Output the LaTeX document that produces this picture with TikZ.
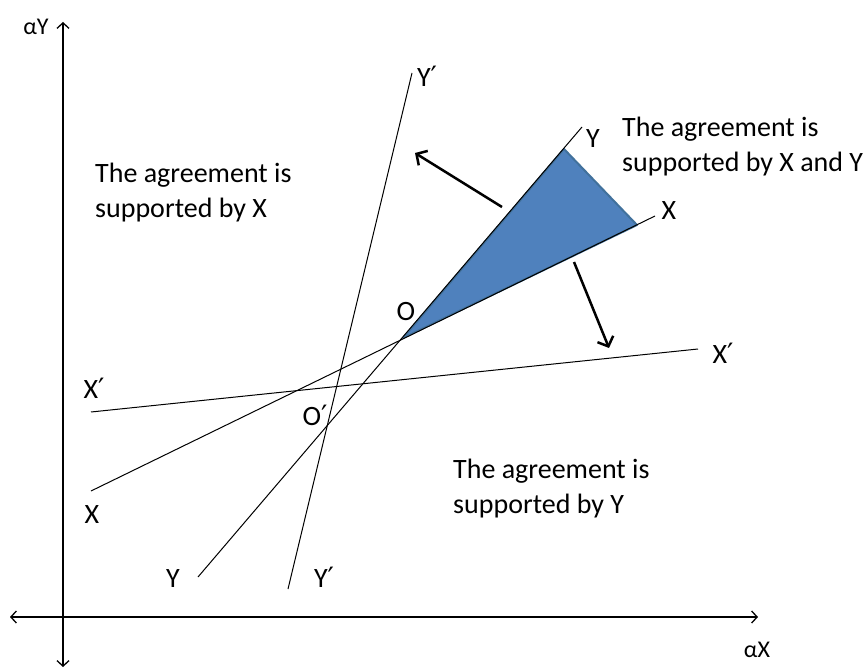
\documentclass[tikz,border=0pt]{standalone}
\usepackage{fontspec}
\setmainfont{Carlito}
\newfontfamily\primefont{DejaVu Sans}
\newcommand{\prm}{{\primefont\fontsize{28}{30}\selectfont ′}}
\usetikzlibrary{arrows.meta}
\definecolor{blueA}{HTML}{4F81BD}
\definecolor{blueB}{HTML}{41719C}
\begin{document}
\begin{tikzpicture}[x=1pt,y=-1pt,
  lbl/.style={font=\fontsize{28}{34}\selectfont, inner sep=0pt, anchor=base},
  txt/.style={font=\fontsize{28}{34}\selectfont, inner sep=0pt, anchor=base west},
  axislbl/.style={font=\fontsize{24}{28}\selectfont, inner sep=0pt, anchor=base},
  axis/.style={line width=1.3pt, {Straight Barb[length=5.5pt,width=12pt]}-{Straight Barb[length=5.5pt,width=12pt]}},
  ln/.style={line width=1pt},
  bigarrow/.style={line width=2.5pt, -{Straight Barb[length=8pt,width=17pt]}},
  region/.style={fill=blueA, draw=blueB, line width=2pt, line join=round}]
\useasboundingbox (0,0) rectangle (867,668);
% coordinates
\coordinate (vb) at (63,667);
\coordinate (vt) at (63,22);
\coordinate (hl) at (10,617);
\coordinate (hr) at (758,617);
\coordinate (X1) at (91,491);
\coordinate (X2) at (655,216);
\coordinate (Y1) at (198,577);
\coordinate (Y2) at (582,127);
\coordinate (Xp1) at (91,412);
\coordinate (Xp2) at (698,349);
\coordinate (Yp1) at (288,589);
\coordinate (Yp2) at (412,73);
\coordinate (O) at (403,338);
\coordinate (T) at (564,149);
\coordinate (R) at (637,225);
\coordinate (a1s) at (502,207);
\coordinate (a1e) at (415,153);
\coordinate (a2s) at (574,262);
\coordinate (a2e) at (609,348);
% shaded region
\draw[region] (O) -- (T) -- (R) -- cycle;
% axes
\draw[axis] (vb) -- (vt);
\draw[axis] (hl) -- (hr);
% lines
\draw[ln] (X1) -- (X2);
\draw[ln] (Y1) -- (Y2);
\draw[ln] (Xp1) -- (Xp2);
\draw[ln] (Yp1) -- (Yp2);
% arrows
\draw[bigarrow] (a1s) -- (a1e);
\draw[bigarrow] (a2s) -- (a2e);
% labels
\node[axislbl] (laY) at (36,35) {αY};
\node[axislbl] (laX) at (757,657) {αX};
\node[lbl] (lYpT) at (427,87) {Y\prm};
\node[lbl] (lXpL) at (94,398) {X\prm};
\node[lbl] (lXL) at (92,523) {X};
\node[lbl] (lYB) at (173,587) {Y};
\node[lbl] (lYpB) at (324,587) {Y\prm};
\node[lbl] (lOp) at (315,425) {O\prm};
\node[lbl] (lO) at (406,320) {O};
\node[lbl] (lYT) at (593,148) {Y};
\node[lbl] (lXR) at (669,220) {X};
\node[lbl] (lXpR) at (723,363) {X\prm};
% texts
\node[txt] (t1a) at (95,183) {The agreement is};
\node[txt] (t1b) at (95,218) {supported by X};
\node[txt] (t2a) at (622,137) {The agreement is};
\node[txt] (t2b) at (622,172) {supported by X and Y};
\node[txt] (t3a) at (453,478) {The agreement is};
\node[txt] (t3b) at (453,513) {supported by Y};
\end{tikzpicture}
\end{document}
